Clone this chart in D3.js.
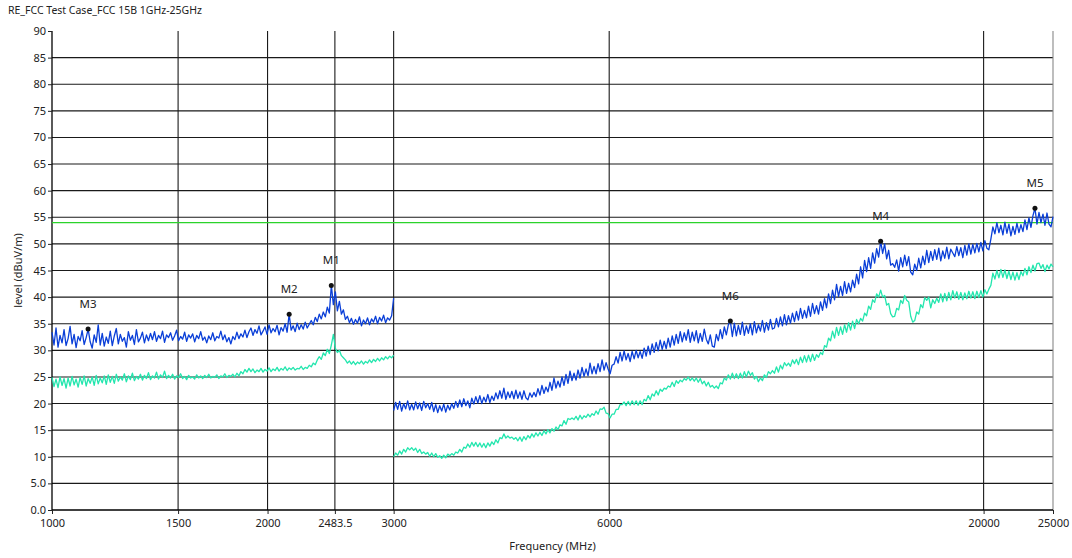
<!DOCTYPE html>
<html>
<head>
<meta charset="utf-8">
<script src="https://cdn.jsdelivr.net/npm/d3@7"></script>
<style>
  body { margin: 0; background: #fff; }
  text { font-family: "Noto Sans", "DejaVu Sans", sans-serif; fill: #222; }
</style>
</head>
<body>
<script>
// sweep segments (MHz) - the receiver measures 1-3 GHz and 3-25 GHz separately
const seg1Range = [1000, 3000];
const seg2Range = [3000, 25000];

// peak detector, 1-3 GHz (dBuV/m)
const peak1 = [
  33.4, 31.0, 34.2, 30.6, 32.8, 31.4, 33.9, 30.9, 32.2, 34.5,
  31.2, 33.0, 30.5, 32.6, 31.8, 33.7, 31.1, 32.4, 34.0, 31.6,
  30.4, 32.9, 31.5, 34.8, 31.0, 33.2, 30.8, 32.5, 31.3, 33.6,
  30.9, 32.7, 34.1, 31.2, 33.0, 31.7, 32.4, 30.6, 33.5, 31.9,
  32.8, 31.1, 33.9, 31.6, 32.3, 33.4, 31.4, 32.9, 31.8, 33.2,
  32.0, 33.5, 31.7, 32.8, 32.2, 33.6, 31.5, 32.9, 32.4, 33.3,
  31.9, 32.7, 33.8, 31.8, 32.6, 32.1, 33.4, 31.7, 32.9, 32.3,
  33.1, 31.6, 32.8, 32.2, 33.5, 31.9, 32.5, 31.4, 32.7, 32.0,
  33.3, 31.8, 32.6, 32.3, 33.6, 32.0, 32.9, 31.6, 32.4, 31.2,
  32.6, 32.0, 33.4, 32.2, 33.1, 32.5, 33.8, 32.4, 33.5, 34.2,
  32.8, 33.9, 33.2, 34.6, 32.9, 33.6, 34.4, 33.0, 34.8, 33.3,
  34.1, 33.5, 34.7, 32.9, 34.3, 33.6, 35.0, 33.4, 36.8, 33.8,
  34.6, 33.5, 35.1, 33.9, 34.8, 34.0, 35.3, 34.2, 34.9, 35.6,
  34.8, 36.2, 35.4, 36.8, 35.9, 37.2, 36.3, 38.1, 37.0, 42.2,
  38.6, 41.0, 37.4, 39.2, 36.8, 37.6, 35.8, 36.4, 35.2, 36.0,
  34.9, 35.8, 35.1, 36.3, 34.6, 35.7, 35.0, 36.1, 34.8, 35.9,
  35.3, 36.4, 35.0, 36.2, 35.5, 36.6, 35.2, 36.1, 35.7, 36.5,
  39.8
];

// average detector, 1-3 GHz
const avg1 = [
  24.9, 23.2, 24.6, 23.0, 25.0, 23.4, 24.7, 22.9, 24.8, 23.3,
  25.1, 23.5, 24.6, 23.1, 24.9, 23.6, 25.2, 23.3, 24.7, 23.8,
  25.0, 23.4, 25.3, 23.7, 24.8, 23.9, 25.2, 23.6, 25.4, 24.0,
  25.1, 23.8, 25.5, 24.2, 25.0, 24.4, 25.6, 24.1, 25.2, 24.5,
  25.7, 24.3, 25.1, 24.6, 25.5, 24.4, 25.3, 24.7, 25.8, 24.5,
  25.2, 24.8, 25.9, 24.6, 25.4, 24.9, 26.1, 24.7, 25.3, 24.8,
  25.5, 24.6, 25.2, 24.9, 25.6, 24.7, 25.1, 24.5, 25.3, 24.8,
  25.0, 24.6, 25.4, 24.8, 25.2, 24.7, 25.3, 24.9, 25.5, 24.8,
  25.1, 24.9, 25.4, 24.7, 25.2, 25.0, 25.6, 24.9, 25.3, 25.1,
  25.5, 25.0, 25.7, 25.2, 26.0, 25.6, 26.4, 25.9, 26.6, 26.0,
  26.5, 25.8, 26.3, 26.0, 26.6, 25.9, 26.4, 26.1, 26.7, 26.0,
  26.5, 26.2, 26.8, 26.1, 26.6, 26.3, 26.9, 26.2, 26.7, 26.4,
  26.8, 26.3, 26.6, 26.5, 27.0, 26.4, 26.8, 26.6, 27.2, 26.9,
  27.6, 27.3, 28.2, 28.8, 28.3, 29.5, 29.0, 30.2, 29.4, 31.0,
  33.0, 30.4, 29.6, 30.0, 29.0, 28.6, 28.2, 27.6, 28.0, 27.4,
  27.9, 27.3, 27.8, 27.5, 28.0, 27.4, 27.9, 27.6, 28.2, 27.7,
  28.3, 27.9, 28.5, 28.0, 28.6, 28.2, 28.8, 28.4, 28.9, 28.6,
  29.1
];

// peak detector, 3-25 GHz
const peak2 = [
  18.7, 20.2, 18.9, 20.4, 18.6, 20.0, 19.0, 20.5, 18.8, 19.9,
  18.8, 20.3, 19.0, 20.1, 18.7, 20.4, 19.2, 20.0, 18.9, 20.2,
  18.5, 19.8, 18.3, 19.6, 18.6, 19.9, 18.4, 19.7, 18.8, 20.0,
  19.1, 20.4, 19.3, 20.7, 19.4, 20.9, 19.6, 20.5, 19.2, 21.0,
  19.9, 21.3, 20.1, 21.5, 20.0, 21.2, 20.3, 21.7, 20.2, 21.4,
  20.6, 22.0, 20.9, 22.4, 21.0, 22.9, 20.8, 22.2, 21.1, 22.3,
  20.9, 22.5, 21.0, 22.2, 20.8, 22.4, 21.1, 20.7, 22.0, 21.2,
  22.1, 21.3, 22.8, 21.6, 23.4, 21.9, 23.1, 22.2, 24.0, 22.5,
  24.8, 22.9, 24.2, 23.1, 25.0, 23.4, 25.5, 23.8, 26.1, 24.3,
  25.7, 24.4, 26.3, 24.8, 26.8, 25.1, 26.5, 25.2, 27.6, 25.6,
  27.0, 25.6, 27.5, 26.0, 28.2, 26.3, 27.7, 26.5, 25.6, 27.2,
  27.4, 28.8, 27.6, 29.6, 28.0, 29.9, 28.2, 29.4, 27.9, 29.8,
  28.4, 30.0, 28.6, 29.8, 28.5, 30.4, 28.9, 30.8, 29.2, 31.2,
  29.6, 31.5, 29.9, 31.9, 30.2, 31.7, 30.3, 32.3, 30.6, 32.7,
  31.0, 33.0, 31.3, 33.5, 31.6, 33.3, 31.9, 33.9, 31.5, 33.4,
  31.8, 33.7, 31.4, 33.2, 31.7, 34.0, 32.1, 31.2, 32.9, 30.8,
  30.6, 33.0, 31.8, 33.9, 32.2, 34.4, 32.9, 34.8, 35.5, 32.6,
  35.1, 32.7, 34.7, 33.0, 35.3, 32.8, 34.6, 33.2, 35.0, 32.9,
  35.4, 33.3, 34.8, 33.6, 35.6, 33.4, 35.2, 33.8, 35.8, 34.0,
  34.2, 36.0, 34.4, 36.3, 34.6, 36.7, 34.8, 36.5, 35.1, 37.0,
  35.4, 37.3, 35.7, 37.9, 36.0, 37.5, 36.1, 38.3, 36.4, 38.8,
  36.9, 38.4, 36.8, 39.1, 37.5, 39.7, 38.0, 40.6, 38.8, 41.3,
  39.5, 42.4, 40.1, 42.0, 40.3, 42.9, 40.7, 42.6, 41.0, 43.2,
  41.8, 44.3, 42.5, 45.7, 43.6, 46.9, 44.8, 47.4, 45.4, 48.3,
  46.4, 49.1, 47.5, 50.5, 48.2, 50.0, 47.2, 48.8, 46.0, 46.3,
  45.6, 47.0, 44.9, 47.4, 45.7, 47.9, 45.9, 47.6, 44.7, 44.2,
  46.2, 45.0, 47.3, 45.5, 47.7, 46.1, 48.8, 46.5, 48.6, 46.9,
  48.9, 47.1, 49.2, 46.8, 48.7, 47.3, 49.4, 47.2, 49.0, 48.3,
  47.6, 49.5, 47.8, 49.3, 47.4, 49.7, 47.9, 50.0, 48.1, 49.9,
  48.3, 50.1, 48.5, 50.3, 48.7, 50.6, 49.2, 48.9, 50.9, 53.2,
  51.9, 54.0, 52.1, 53.5, 51.7, 54.1, 52.0, 53.7, 51.5, 53.3,
  51.8, 53.9, 52.1, 53.6, 52.3, 54.5, 52.7, 54.9, 53.1, 55.3,
  56.7, 53.7, 55.9, 54.0, 55.6, 53.5, 55.8, 53.7, 53.2, 55.1
];

// average detector, 3-25 GHz
const avg2 = [
  10.0, 10.7, 10.3, 11.1, 10.5, 11.4, 10.9, 11.7, 11.3, 11.7,
  11.2, 11.6, 10.8, 11.4, 10.6, 10.9, 10.5, 10.8, 10.1, 10.7,
  10.0, 10.6, 9.9, 10.2, 9.7, 10.3, 9.8, 10.5, 10.2, 10.6,
  10.3, 10.9, 10.7, 11.4, 10.9, 11.8, 11.6, 12.4, 11.8, 12.7,
  12.0, 12.7, 11.9, 12.6, 11.8, 12.5, 11.7, 12.6, 12.0, 12.8,
  12.3, 13.2, 12.6, 13.6, 13.4, 14.3, 13.5, 13.9, 13.5, 13.7,
  13.3, 13.6, 13.0, 13.7, 12.9, 13.8, 13.2, 14.0, 13.5, 14.3,
  13.7, 14.5, 13.9, 14.6, 14.0, 14.9, 14.3, 15.1, 14.5, 15.3,
  14.8, 15.6, 15.1, 16.0, 15.8, 16.8, 16.1, 17.2, 17.0, 17.3,
  17.0, 17.6, 16.9, 17.8, 17.1, 17.7, 17.4, 18.0, 17.5, 18.1,
  17.8, 18.6, 18.0, 19.0, 18.9, 19.3, 18.2, 18.1, 17.3, 18.0,
  18.0, 18.9, 18.9, 19.8, 19.8, 20.3, 19.6, 20.4, 19.7, 20.5,
  19.8, 20.5, 19.7, 20.5, 19.8, 20.8, 20.5, 21.5, 20.7, 21.8,
  21.4, 22.4, 21.6, 22.7, 22.3, 22.9, 22.7, 23.3, 23.1, 24.0,
  23.2, 24.3, 23.8, 24.4, 24.1, 24.7, 24.4, 25.0, 24.3, 24.8,
  24.2, 24.8, 24.0, 24.7, 23.7, 24.2, 23.3, 24.0, 23.1, 23.4,
  22.9, 23.3, 22.8, 23.9, 23.7, 24.8, 24.4, 25.4, 24.6, 25.7,
  24.7, 25.6, 24.7, 25.7, 24.8, 26.0, 25.0, 26.1, 25.3, 25.8,
  24.6, 25.1, 24.1, 24.8, 24.3, 25.4, 24.9, 26.0, 25.6, 26.2,
  25.7, 26.9, 25.9, 27.2, 26.5, 27.7, 27.1, 27.6, 27.0, 28.2,
  27.5, 28.3, 27.3, 28.7, 27.7, 29.0, 27.8, 29.1, 27.9, 29.3,
  28.1, 29.2, 28.7, 29.6, 29.2, 30.9, 30.6, 32.3, 31.8, 33.6,
  32.3, 34.3, 32.8, 34.4, 33.0, 34.8, 33.4, 35.2, 33.8, 35.5,
  34.1, 35.8, 35.0, 36.0, 35.5, 37.0, 36.5, 38.3, 37.7, 39.5,
  39.0, 40.6, 40.0, 41.3, 40.0, 40.3, 38.5, 38.8, 36.9, 36.3,
  36.4, 37.9, 37.6, 39.4, 38.8, 40.3, 39.4, 39.1, 36.4, 35.3,
  35.6, 37.2, 36.8, 38.6, 38.0, 39.9, 39.4, 40.0, 38.0, 39.5,
  38.8, 39.8, 39.0, 40.6, 39.1, 40.7, 39.3, 40.9, 39.5, 41.2,
  39.8, 41.0, 39.6, 40.9, 39.5, 40.8, 39.7, 41.1, 39.8, 41.0,
  39.7, 41.1, 39.9, 41.2, 40.0, 41.4, 40.6, 41.5, 42.2, 44.5,
  43.4, 45.0, 43.6, 45.2, 43.7, 45.1, 43.5, 44.9, 43.3, 44.7,
  43.2, 44.6, 43.3, 44.8, 44.0, 45.4, 44.2, 45.7, 44.6, 46.0,
  44.9, 46.3, 46.4, 45.4, 46.1, 44.8, 46.0, 45.3, 46.2, 45.7
];

const limitLevel = 54;   // FCC 15B class B average limit

const markerNames  = ["M1", "M2", "M3", "M4", "M5", "M6"];
const markerFreqs  = [2455, 2144, 1123, 14362, 23591, 8858];
const markerLevels = [42.2, 36.8, 34.0, 50.5, 56.7, 35.5];

const xTickValues = [1000, 1500, 2000, 2483.5, 3000, 6000, 20000, 25000];
const xTickLabels = ["1000", "1500", "2000", "2483.5", "3000", "6000", "20000", "25000"];
const yTickValues = d3.range(0, 91, 5);

const width = 1072, height = 558;
const margin = {top: 31, right: 19, bottom: 48, left: 52};

const x = d3.scaleLog().domain([1000, 25000]).range([margin.left, width - margin.right]);
const y = d3.scaleLinear().domain([0, 90]).range([height - margin.bottom, margin.top]);

// sweep points are spread evenly on the log axis
function sweep(range, n) {
  const a = Math.log10(range[0]), b = Math.log10(range[1]);
  return d3.range(n).map(i => Math.pow(10, a + (b - a) * i / (n - 1)));
}
const f1 = sweep(seg1Range, peak1.length);
const f2 = sweep(seg2Range, peak2.length);

const svg = d3.select("body").append("svg")
  .attr("width", width)
  .attr("height", height);

svg.append("text")
  .attr("x", 8).attr("y", 14)
  .attr("font-size", 10.5)
  .text("RE_FCC Test Case_FCC 15B 1GHz-25GHz");

// grid
const grid = svg.append("g").attr("stroke", "#1a1a1a").attr("stroke-width", 1.1);
grid.selectAll("line.h")
  .data(yTickValues.filter(v => v > 0 && v < 90))
  .join("line")
  .attr("class", "h")
  .attr("x1", margin.left).attr("x2", width - margin.right)
  .attr("y1", d => y(d)).attr("y2", d => y(d));
grid.selectAll("line.v")
  .data(xTickValues.slice(1))
  .join("line")
  .attr("class", "v")
  .attr("x1", d => x(d)).attr("x2", d => x(d))
  .attr("y1", margin.top).attr("y2", height - margin.bottom)
  .attr("stroke", d => d === 25000 ? "#888" : null);

// axes
const xAxis = d3.axisBottom(x)
  .tickValues(xTickValues)
  .tickFormat((d, i) => xTickLabels[i])
  .tickSize(4).tickPadding(5);
const gx = svg.append("g")
  .attr("transform", `translate(0,${height - margin.bottom})`)
  .call(xAxis);

const yAxis = d3.axisLeft(y)
  .tickValues(yTickValues)
  .tickFormat(d => d < 10 ? d3.format(".1f")(d) : d)
  .tickSize(4).tickPadding(2);
const gy = svg.append("g")
  .attr("transform", `translate(${margin.left},0)`)
  .call(yAxis);

[gx, gy].forEach(g => {
  g.select(".domain").attr("stroke", "#000").attr("stroke-width", 1.3);
  g.selectAll(".tick line").attr("stroke", "#222");
  g.selectAll(".tick text")
    .attr("font-size", 11)
    .attr("fill", "#222")
    .style("font-family", "'Noto Sans', 'DejaVu Sans', sans-serif");
});
gx.select(".domain").attr("d", `M${margin.left},0H${width - margin.right}`);
gy.select(".domain").attr("d", `M0,${y(0)}V${margin.top}`);

svg.append("text")
  .attr("x", (margin.left + width - margin.right) / 2)
  .attr("y", 550)
  .attr("text-anchor", "middle")
  .attr("font-size", 11)
  .text("Frequency (MHz)");

svg.append("text")
  .attr("transform", `translate(22,${(margin.top + height - margin.bottom) / 2}) rotate(-90)`)
  .attr("text-anchor", "middle")
  .attr("font-size", 11)
  .text("level (dBuV/m)");

// limit line
svg.append("line")
  .attr("x1", x(1000)).attr("x2", x(25000))
  .attr("y1", y(limitLevel)).attr("y2", y(limitLevel))
  .attr("stroke", "#2bd32b")
  .attr("stroke-width", 1.4);

const line = d3.line()
  .x(d => x(d[0]))
  .y(d => y(d[1]));

const traces = [
  {f: f1, v: avg1, color: "#23e6ae"},
  {f: f2, v: avg2, color: "#23e6ae"},
  {f: f1, v: peak1, color: "#0a3fd8"},
  {f: f2, v: peak2, color: "#0a3fd8"}
];

svg.append("g")
  .selectAll("path")
  .data(traces)
  .join("path")
  .attr("fill", "none")
  .attr("stroke", d => d.color)
  .attr("stroke-width", 1.3)
  .attr("stroke-linejoin", "round")
  .attr("d", d => line(d.f.map((f, i) => [f, d.v[i]])));

// markers
const mk = svg.append("g")
  .selectAll("g")
  .data(markerNames)
  .join("g")
  .attr("transform", (d, i) => `translate(${x(markerFreqs[i])},${y(markerLevels[i])})`);

mk.append("circle")
  .attr("r", 2.5)
  .attr("fill", "#111");

mk.append("text")
  .attr("y", -21)
  .attr("text-anchor", "middle")
  .attr("font-size", 11.5)
  .text(d => d);
</script>
</body>
</html>
